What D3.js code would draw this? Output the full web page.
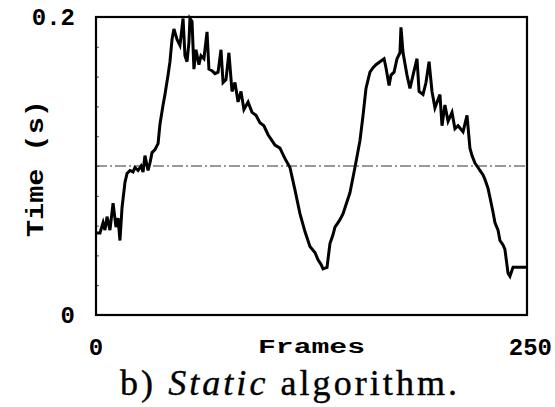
<!DOCTYPE html>
<html lang="en">
<head>
    <meta charset="UTF-8">
    <title>Static algorithm</title>
    <style>
      body { margin: 0; background: #fff; }
    </style>
</head>
<body>
  <script src="https://d3js.org/d3.v7.min.js"></script>
  <div id="my_dataviz"></div>
  <script>
  // frames and time (s)
  var frames = [0.6, 2.3, 4.1, 5.2, 6.4, 8.1, 9.9, 11.6, 12.8, 13.9, 15.1, 16.8, 18.0, 19.7, 21.5, 22.6, 24.4, 26.1, 27.3, 28.4,
    30.2, 31.3, 32.5, 34.2, 36.0, 37.1, 38.9, 40.0, 41.8, 42.9, 44.1, 45.2, 47.0, 48.7, 50.5, 51.6, 52.8, 53.9, 54.5, 55.7,
    56.8, 58.0, 59.7, 60.9, 62.6, 64.4, 65.5, 67.3, 69.0, 70.8, 72.5, 73.7, 75.4, 77.1, 78.9, 80.6, 82.4, 84.1, 85.8, 88.2,
    90.5, 92.8, 95.1, 97.4, 99.8, 102.1, 103.8, 106.7, 109.6, 112.5, 115.4, 118.3, 121.2, 124.1, 127.0, 128.8, 130.5, 131.7, 134.0, 135.7,
    137.5, 138.6, 140.4, 141.5, 143.3, 145.0, 147.3, 150.2, 153.1, 154.9, 156.6, 158.9, 160.7, 162.4, 164.7, 167.1, 168.2, 170.0, 171.1, 172.9,
    174.6, 176.3, 176.9, 178.1, 180.4, 182.1, 183.9, 186.2, 187.4, 189.7, 191.4, 193.2, 194.9, 196.6, 199.5, 200.7, 202.4, 204.2, 206.5, 208.2,
    210.0, 212.9, 215.2, 216.9, 218.1, 219.8, 221.6, 222.7, 224.5, 225.6, 227.4, 228.5, 230.3, 231.4, 233.2, 234.3, 236.1, 237.2, 239.0, 240.1,
    241.9, 250];
  var times = [0.055, 0.055, 0.062, 0.057, 0.066, 0.057, 0.075, 0.059, 0.065, 0.050, 0.072, 0.089, 0.095, 0.097, 0.096, 0.099, 0.097, 0.100, 0.096, 0.107,
    0.097, 0.102, 0.109, 0.111, 0.115, 0.128, 0.141, 0.148, 0.161, 0.170, 0.185, 0.192, 0.185, 0.181, 0.199, 0.174, 0.170, 0.183, 0.199, 0.197,
    0.165, 0.178, 0.168, 0.174, 0.172, 0.190, 0.165, 0.164, 0.162, 0.163, 0.178, 0.156, 0.158, 0.176, 0.150, 0.156, 0.143, 0.150, 0.138, 0.143,
    0.136, 0.134, 0.129, 0.127, 0.121, 0.117, 0.114, 0.112, 0.105, 0.099, 0.084, 0.068, 0.056, 0.046, 0.042, 0.037, 0.034, 0.031, 0.032, 0.048,
    0.054, 0.059, 0.062, 0.064, 0.068, 0.074, 0.082, 0.099, 0.117, 0.134, 0.152, 0.163, 0.166, 0.168, 0.170, 0.172, 0.166, 0.154, 0.161, 0.163,
    0.172, 0.176, 0.193, 0.176, 0.161, 0.152, 0.161, 0.172, 0.150, 0.148, 0.156, 0.170, 0.150, 0.139, 0.148, 0.127, 0.141, 0.130, 0.136, 0.125,
    0.127, 0.123, 0.134, 0.112, 0.107, 0.102, 0.099, 0.097, 0.094, 0.091, 0.085, 0.079, 0.069, 0.062, 0.057, 0.050, 0.047, 0.044, 0.028, 0.026,
    0.032, 0.032];
  var xTicks = [0, 250];
  var yTicks = [0, 0.2];
  var yTickLabels = ["0", "0.2"];
  var refTime = 0.1;

  var margin = {top: 17, right: 28, bottom: 92, left: 96},
    width = 555 - margin.left - margin.right,
    height = 407 - margin.top - margin.bottom;

  var svg = d3.select("#my_dataviz")
  .append("svg")
    .attr("width", 555)
    .attr("height", 407)
  .append("g")
    .attr("transform", "translate(" + margin.left + "," + margin.top + ")");

  var x = d3.scaleLinear()
    .domain([0, 250])
    .range([0, width]);
  var y = d3.scaleLinear()
    .domain([0, 0.2])
    .range([height, 0]);

  var monoFont = "'Liberation Mono', 'DejaVu Sans Mono', monospace";

  // dash-dot reference line at 0.1 s
  svg.append("line")
    .attr("x1", x(0))
    .attr("x2", x(250))
    .attr("y1", y(refTime))
    .attr("y2", y(refTime))
    .style("stroke", "#333")
    .style("stroke-width", 1.2)
    .style("stroke-dasharray", "11,3,2,3");

  // small inner ticks on the left axis
  svg.append("g")
    .call(d3.axisLeft(y).ticks(10).tickSize(-3).tickFormat(""))
    .call(function(g) { g.select(".domain").remove(); })
    .selectAll("line").style("stroke", "#555");

  var data = frames.map(function(f, i) { return [f, times[i]]; });

  svg.append("path")
    .datum(data)
    .attr("fill", "none")
    .attr("stroke", "#000")
    .attr("stroke-width", 3)
    .attr("stroke-linejoin", "miter")
    .attr("d", d3.line()
      .x(function(d) { return x(d[0]); })
      .y(function(d) { return y(d[1]); }));

  // frame box
  svg.append("rect")
    .attr("x", 0)
    .attr("y", 0)
    .attr("width", width)
    .attr("height", height)
    .style("fill", "none")
    .style("stroke", "#000")
    .style("stroke-width", 2.2);

  // tick labels
  svg.selectAll(".xlab")
    .data(xTicks)
    .enter().append("text")
      .attr("x", function(d) { return x(d); })
      .attr("y", height + 40)
      .attr("text-anchor", function(d, i) { return i == 0 ? "middle" : "end"; })
      .attr("dx", function(d, i) { return i == 0 ? 0 : 25; })
      .style("font-family", monoFont)
      .style("font-weight", "bold")
      .style("font-size", "24px")
      .text(function(d) { return d; });

  svg.selectAll(".ylab")
    .data(yTicks)
    .enter().append("text")
      .attr("x", -21)
      .attr("y", function(d) { return y(d) + 8; })
      .attr("text-anchor", "end")
      .style("font-family", monoFont)
      .style("font-weight", "bold")
      .style("font-size", "24px")
      .text(function(d, i) { return yTickLabels[i]; });

  svg.append("text")
    .attr("x", 258 - margin.left)
    .attr("y", height + 38)
    .attr("textLength", 107)
    .attr("lengthAdjust", "spacingAndGlyphs")
    .style("font-family", monoFont)
    .style("font-weight", "bold")
    .style("font-size", "20px")
    .text("Frames");

  svg.append("text")
    .attr("transform", "translate(" + (43 - margin.left) + "," + (237 - margin.top) + ") rotate(-90)")
    .attr("textLength", 137)
    .attr("lengthAdjust", "spacingAndGlyphs")
    .style("font-family", monoFont)
    .style("font-weight", "bold")
    .style("font-size", "24px")
    .text("Time (s)");

  // caption
  var cap = d3.select("svg").append("text")
    .attr("x", 120)
    .attr("y", 395)
    .attr("textLength", 337)
    .style("font-family", "'Liberation Serif', 'DejaVu Serif', serif")
    .style("font-size", "36px")
    .style("stroke", "#000")
    .style("stroke-width", 0.4);
  cap.append("tspan").text("b) ");
  cap.append("tspan").style("font-style", "italic").text("Static");
  cap.append("tspan").text(" algorithm.");
  </script>
</body>
</html>
